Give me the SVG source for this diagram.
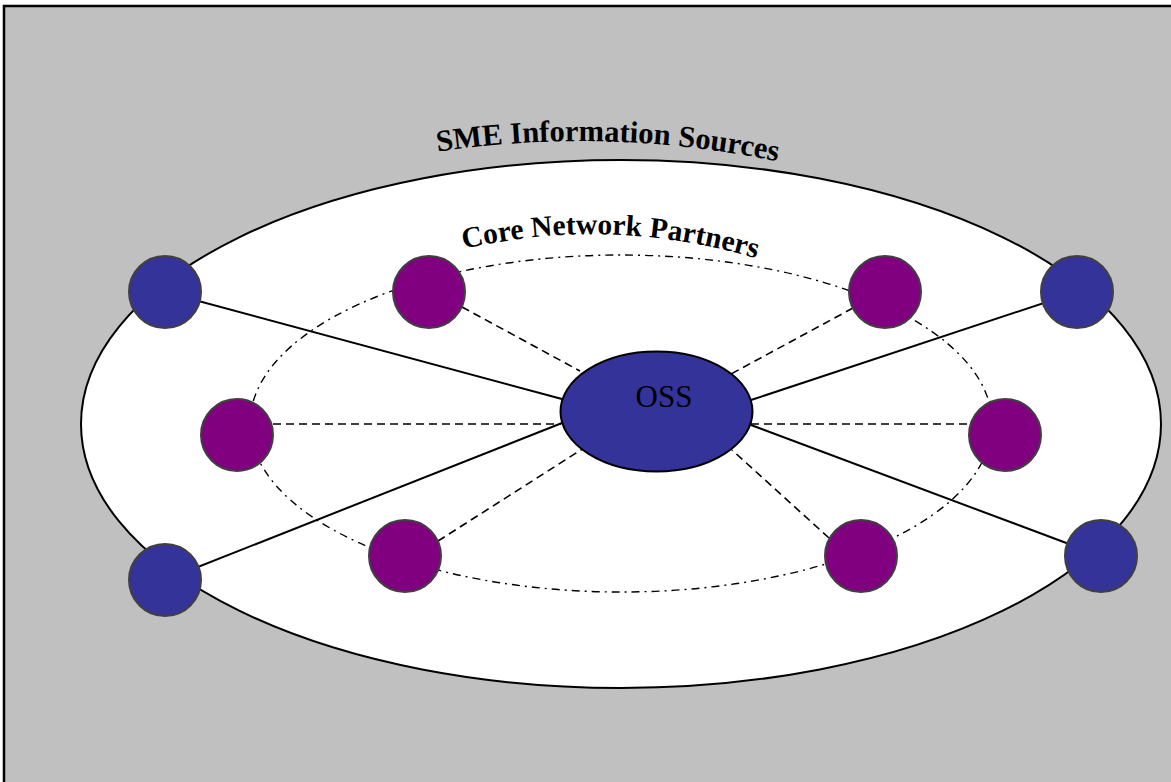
<svg xmlns="http://www.w3.org/2000/svg" width="1171" height="782" viewBox="0 0 1171 782">
  <style>
    .blue { fill: #333399; stroke: #404040; stroke-width: 2; }
    .purple { fill: #800080; stroke: #404040; stroke-width: 2; }
    .solid { stroke: #000; stroke-width: 2; fill: none; }
    .dashed { stroke: #000; stroke-width: 1.6; fill: none; stroke-dasharray: 8 5; }
    .title { font-family: "Liberation Serif", "Times New Roman", serif; font-weight: bold; fill: #000; }
  </style>
  <defs>
    <path id="arcSME" d="M 430,153 Q 607,125 785,163"/>
    <path id="arcCore" d="M 455,251 Q 610,213 765,261"/>
  </defs>
  <rect id="background" x="4" y="6" width="1200" height="800" fill="#C0C0C0" stroke="#000" stroke-width="2.5"/>
  <g id="sme-region">
    <ellipse cx="621" cy="424" rx="540" ry="264" fill="#FFFFFF" stroke="#000" stroke-width="2"/>
    <text class="title" font-size="30.5"><textPath href="#arcSME" startOffset="50%" text-anchor="middle">SME Information Sources</textPath></text>
  </g>
  <g id="core-region">
    <ellipse cx="621" cy="423.5" rx="371" ry="168.5" fill="none" stroke="#000" stroke-width="1.4" stroke-dasharray="8 5 2 5"/>
    <text class="title" font-size="29.5"><textPath href="#arcCore" startOffset="50%" text-anchor="middle">Core Network Partners</textPath></text>
  </g>
  <g id="connectors">
    <line class="solid" x1="165" y1="292" x2="562" y2="399"/>
    <line class="solid" x1="165" y1="580" x2="562" y2="423"/>
    <line class="solid" x1="1077" y1="292" x2="751" y2="400"/>
    <line class="solid" x1="1101" y1="556" x2="751" y2="425"/>
    <line class="dashed" x1="462" y1="307" x2="580" y2="371"/>
    <line class="dashed" x1="273" y1="424" x2="561" y2="424"/>
    <line class="dashed" x1="438" y1="541" x2="584" y2="448"/>
    <line class="dashed" x1="853" y1="308" x2="731" y2="374"/>
    <line class="dashed" x1="751" y1="424" x2="969" y2="424"/>
    <line class="dashed" x1="829" y1="538" x2="732" y2="450"/>
  </g>
  <g id="oss">
    <ellipse cx="656.5" cy="411.5" rx="96" ry="60" fill="#333399" stroke="#000" stroke-width="2"/>
    <text x="664" y="407" font-family="Liberation Serif, 'Times New Roman', serif" font-size="31" text-anchor="middle" fill="#000">OSS</text>
  </g>
  <g id="source-tl"><circle class="blue" cx="165" cy="292" r="36"/></g>
  <g id="source-bl"><circle class="blue" cx="165" cy="580" r="36"/></g>
  <g id="source-tr"><circle class="blue" cx="1077" cy="292" r="36"/></g>
  <g id="source-br"><circle class="blue" cx="1101" cy="556" r="36"/></g>
  <g id="partner-tl"><circle class="purple" cx="429" cy="292" r="36"/></g>
  <g id="partner-l"><circle class="purple" cx="237" cy="435" r="36"/></g>
  <g id="partner-bl"><circle class="purple" cx="405" cy="556" r="36"/></g>
  <g id="partner-tr"><circle class="purple" cx="885" cy="292" r="36"/></g>
  <g id="partner-r"><circle class="purple" cx="1005" cy="435" r="36"/></g>
  <g id="partner-br"><circle class="purple" cx="861" cy="556" r="36"/></g>
</svg>
